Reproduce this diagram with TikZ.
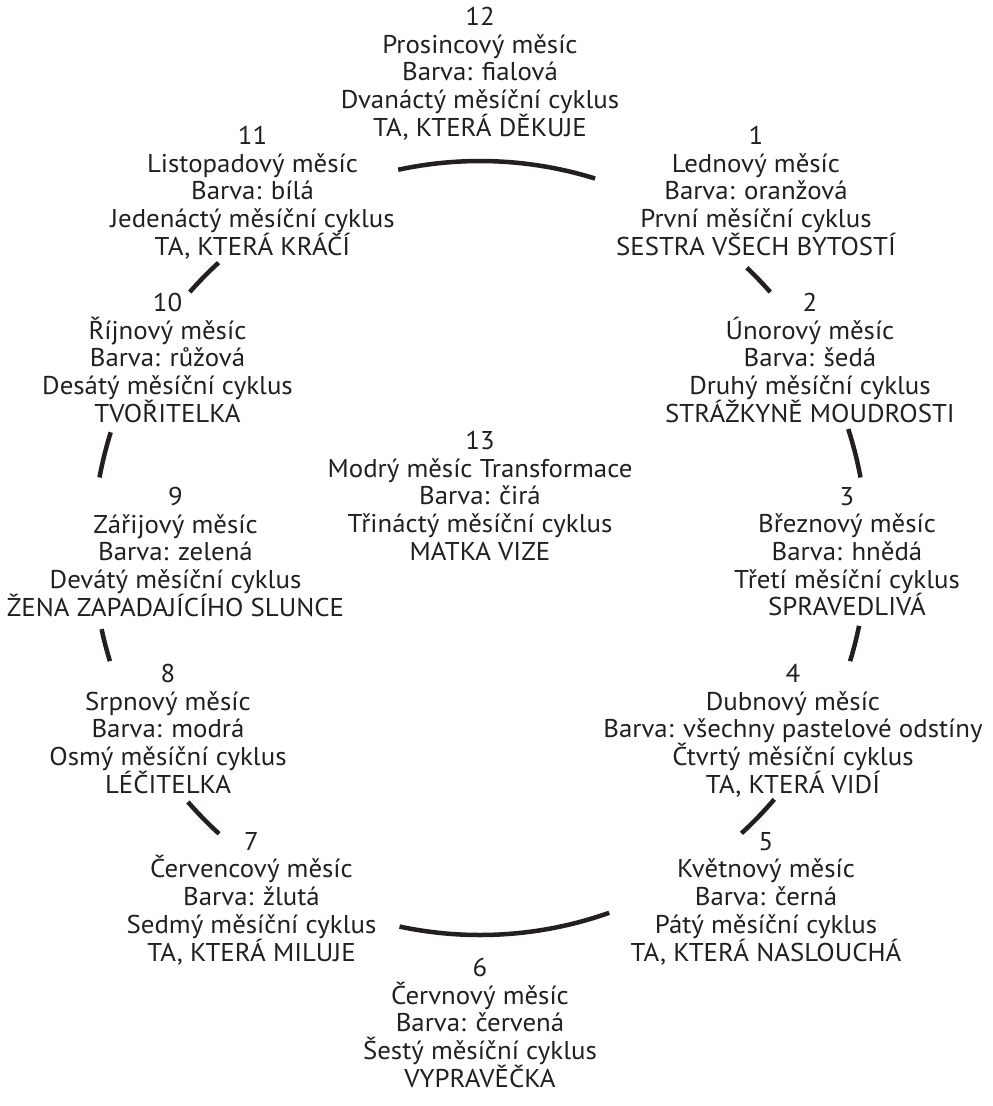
\documentclass[tikz,border=0pt]{standalone}
\usepackage{fontspec}
\setmainfont[FakeStretch=1.045]{PT Sans}
\definecolor{ink}{RGB}{35,31,32}
\begin{document}
\begin{tikzpicture}[x=1pt,y=-1pt,
  blk/.style={anchor=north, align=center, inner sep=0pt, text=ink,
    font=\fontsize{25.7}{27.7}\selectfont},
  ring/.style={draw=ink, line width=4.5pt}]
\useasboundingbox (0,0) rectangle (993,1106);
\node[blk] (m12) at (480,7) {12\\Prosincový měsíc\\Barva: fialová\\Dvanáctý měsíční cyklus\\TA, KTERÁ DĚKUJE};
\node[blk] (m11) at (252.5,126) {11\\Listopadový měsíc\\Barva: bílá\\Jedenáctý měsíční cyklus\\TA, KTERÁ KRÁČÍ};
\node[blk] (m1) at (756,126) {1\\Lednový měsíc\\Barva: oranžová\\První měsíční cyklus\\SESTRA VŠECH BYTOSTÍ};
\node[blk] (m10) at (167.5,293) {10\\Říjnový měsíc\\Barva: růžová\\Desátý měsíční cyklus\\TVOŘITELKA};
\node[blk] (m2) at (810,293) {2\\Únorový měsíc\\Barva: šedá\\Druhý měsíční cyklus\\STRÁŽKYNĚ MOUDROSTI};
\node[blk] (m13) at (480,431) {13\\Modrý měsíc Transformace\\Barva: čirá\\Třináctý měsíční cyklus\\MATKA VIZE};
\node[blk] (m9) at (175.5,487) {9\\Zářijový měsíc\\Barva: zelená\\Devátý měsíční cyklus\\ŽENA ZAPADAJÍCÍHO SLUNCE};
\node[blk] (m3) at (847,487) {3\\Březnový měsíc\\Barva: hnědá\\Třetí měsíční cyklus\\SPRAVEDLIVÁ};
\node[blk] (m8) at (168,664) {8\\Srpnový měsíc\\Barva: modrá\\Osmý měsíční cyklus\\LÉČITELKA};
\node[blk] (m4) at (793,664) {4\\Dubnový měsíc\\Barva: všechny pastelové odstíny\\Čtvrtý měsíční cyklus\\TA, KTERÁ VIDÍ};
\node[blk] (m7) at (251.5,832) {7\\Červencový měsíc\\Barva: žlutá\\Sedmý měsíční cyklus\\TA, KTERÁ MILUJE};
\node[blk] (m5) at (766,832) {5\\Květnový měsíc\\Barva: černá\\Pátý měsíční cyklus\\TA, KTERÁ NASLOUCHÁ};
\node[blk] (m6) at (480,958) {6\\Červnový měsíc\\Barva: červená\\Šestý měsíční cyklus\\VYPRAVĚČKA};
\coordinate (c) at (480,548);
\draw[ring] ([shift={(72.7:387pt)}]c) arc[start angle=72.7, end angle=102.2, radius=387pt];
\draw[ring] ([shift={(41.4:387pt)}]c) arc[start angle=41.4, end angle=46.4, radius=387pt];
\draw[ring] ([shift={(10.5:387pt)}]c) arc[start angle=10.5, end angle=17.9, radius=387pt];
\draw[ring] ([shift={(-17:387pt)}]c) arc[start angle=-17, end angle=-11.6, radius=387pt];
\draw[ring] ([shift={(-47.5:387pt)}]c) arc[start angle=-47.5, end angle=-40.5, radius=387pt];
\draw[ring] ([shift={(-102:387pt)}]c) arc[start angle=-102, end angle=-70.5, radius=387pt];
\draw[ring] ([shift={(-139:387pt)}]c) arc[start angle=-139, end angle=-132.4, radius=387pt];
\draw[ring] ([shift={(-167.9:387pt)}]c) arc[start angle=-167.9, end angle=-163, radius=387pt];
\draw[ring] ([shift={(162.6:387pt)}]c) arc[start angle=162.6, end angle=169.5, radius=387pt];
\draw[ring] ([shift={(132.5:387pt)}]c) arc[start angle=132.5, end angle=138.6, radius=387pt];
\end{tikzpicture}
\end{document}
